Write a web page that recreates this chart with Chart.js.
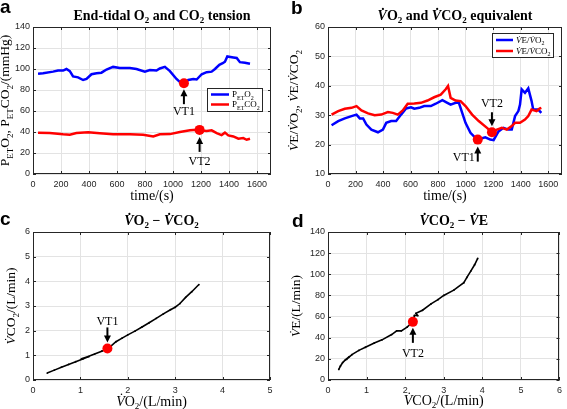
<!DOCTYPE html>
<html><head><meta charset="utf-8">
<script src="https://cdn.jsdelivr.net/npm/chart.js@4.4.0/dist/chart.umd.min.js"></script>
<style>
body{margin:0;background:#fff;width:567px;height:409px;position:relative;overflow:hidden}
canvas{position:absolute}
</style></head><body>
<canvas id="ca" width="283" height="205" style="left:0;top:0"></canvas>
<canvas id="cb" width="284" height="205" style="left:283px;top:0"></canvas>
<canvas id="cc" width="283" height="204" style="left:0;top:205px"></canvas>
<canvas id="cd" width="284" height="204" style="left:283px;top:205px"></canvas>
<script>
// ---------- data ----------
const timeTicks = [0,200,400,600,800,1000,1200,1400,1600];
const pressureTicks = [0,20,40,60,80,100,120,140];
const equivTicks = [10,20,30,40,50,60];
const vo2Ticks = [0,1,2,3,4,5];
const vco2TicksC = [0,1,2,3,4,5,6];
const vco2TicksD = [0,1,2,3,4,5,6];
const veTicks = [0,20,40,60,80,100,120,140];

const timeO2 = [36,72,143,179,215,239,263,286,322,358,382,418,454,489,525,572,620,692,739,799,835,882,906,942,978,1025,1054,1078,1109,1145,1169,1205,1240,1276,1300,1331,1355,1371,1388,1431,1455,1478,1514,1550];
const petO2 = [95.5,96,97.5,98.5,98.5,100,98,93,92,89.5,90.5,95,96,96.5,99.5,102,101,101,100,97.5,99,98.5,100.5,102,98,90.5,87,86.5,89.5,90.5,90,95,97,97.5,100,104,105.5,107,112,111,110.5,106.5,106,105];
const timeCO2 = [36,119,215,263,310,394,477,572,692,787,859,906,978,1049,1121,1169,1193,1240,1276,1312,1347,1371,1395,1431,1467,1502,1526,1550];
const petCO2 = [39.4,39,37.8,37.4,39,39.7,38.7,37.8,37.8,37.4,35.8,37.8,38,40,41.6,42.2,41.6,41,41.6,39,37.1,39.4,36.8,35.8,33.6,34.2,32.6,33.6];

const timeEqO2 = [26,74,122,171,207,231,255,279,315,363,399,423,459,495,531,567,603,627,663,699,747,783,831,867,891,927,951,975,999,1035,1071,1107,1143,1179,1203,1239,1275,1311,1335,1359,1383,1395,1407,1431,1455,1479,1491,1527,1550];
const veVO2 = [26.6,28,28.9,29.7,30.2,28.9,28.9,26.8,25.1,24.2,25.1,27.4,28,28,30.2,32.3,32.7,32.2,32.5,33.1,33.1,33.9,35.1,34.2,33.6,34.2,34.2,30.8,27.4,24,22.3,22,22.5,21.7,21.5,24.5,25.7,25.1,25.1,29.7,31.4,33.6,38.8,37.6,39.1,34.8,31.9,31.9,30.8];
const timeEqCO2 = [26,74,122,171,207,243,291,339,387,435,471,507,543,579,627,675,723,771,819,855,872,891,927,963,999,1047,1095,1155,1191,1227,1263,1299,1335,1359,1395,1431,1455,1479,1515,1539,1550];
const veVCO2 = [30.2,31.4,32.2,32.5,33.1,31.6,30.6,30,30.2,31.1,30.8,30.2,31.6,33.9,34,34.2,35,36.1,37,38.8,39.9,35.9,35,34.8,33.1,30.2,28,25.7,24.2,25.1,25.7,25.1,26.3,27.4,27.4,28.5,29.7,31.9,31.4,32.3,32.5];

const vo2C = [0.30,0.45,0.60,0.75,0.90,1.05,1.18,1.02,1.15,1.30,1.45,1.57,1.65,1.75,1.88,2.00,2.15,2.30,2.45,2.60,2.75,2.90,3.00,3.10,3.22,3.35,3.50];
const vco2C = [0.28,0.40,0.52,0.63,0.74,0.85,0.95,0.86,0.94,1.05,1.17,1.27,1.38,1.55,1.70,1.83,1.98,2.15,2.32,2.50,2.68,2.85,2.95,3.10,3.35,3.58,3.87];

const vco2D = [0.28,0.32,0.38,0.45,0.55,0.48,0.62,0.80,0.97,1.20,1.40,1.65,1.78,1.90,2.05,2.20,2.24,2.32,2.28,2.45,2.67,2.85,3.00,3.26,3.52,3.60,3.70,3.80,3.88];
const veD = [10,13,16.5,19,22,19.5,24,28,31,35,38,43,46.5,46.5,50,55,61,61,63,66,72,76,80,85,92,97,103,109,115];

const vt1A = {x:1078, y:86.5}, vt2A = {x:1190, y:42};
const vt1B = {x:1088, y:21.7}, vt2B = {x:1191, y:24.2};
const vt1C = {x:1.57, y:1.28};
const vt2D = {x:2.2, y:55};

// ---------- helpers ----------
const SERIF = '"Liberation Serif","DejaVu Serif",serif';
const SANS = '"Liberation Sans",Arial,sans-serif';
const V = 'V\u0307';
const xy = (xs, ys) => xs.map((x,i)=>({x, y:ys[i]}));

function rich(ctx, segs, x, y, size, opts={}) {
  const font = f => `${f.includes('i')?'italic ':''}${(opts.bold||f.includes('b'))?'bold ':''}${f.includes('s')?Math.round(size*0.66):size}px ${SERIF}`;
  let w = 0; const ws = [];
  segs.forEach(([t,f=''])=>{ctx.font=font(f); const m=ctx.measureText(t).width; ws.push(m); w+=m;});
  ctx.save(); ctx.translate(x,y); if (opts.rot) ctx.rotate(opts.rot);
  ctx.fillStyle = '#000'; ctx.textBaseline='alphabetic'; ctx.textAlign='left';
  let cx = opts.align==='left' ? 0 : -w/2;
  const base = size*0.33;
  segs.forEach(([t,f=''],i)=>{ctx.font=font(f); ctx.fillText(t, cx, base + (f.includes('s')?size*0.26:0)); cx += ws[i];});
  ctx.restore();
}

function arrow(ctx, x, y1, y2) {
  ctx.save(); ctx.strokeStyle='#000'; ctx.fillStyle='#000'; ctx.lineWidth=2;
  const d = y2>y1 ? 1 : -1;
  ctx.beginPath(); ctx.moveTo(x, y1); ctx.lineTo(x, y2 - d*5); ctx.stroke();
  ctx.beginPath(); ctx.moveTo(x, y2); ctx.lineTo(x-3.5, y2-d*7); ctx.lineTo(x+3.5, y2-d*7); ctx.closePath(); ctx.fill();
  ctx.restore();
}

const deco = {
  id:'deco',
  afterDraw(chart, args, o) {
    const c = chart.ctx, a = chart.chartArea, sx = chart.scales.x, sy = chart.scales.y;
    c.save();
    c.strokeStyle = '#262626'; c.lineWidth = 1;
    c.beginPath();
    sx.ticks.forEach(t=>{const p=Math.round(sx.getPixelForValue(t.value))+0.5; c.moveTo(p,a.bottom); c.lineTo(p,a.bottom-3); c.moveTo(p,a.top); c.lineTo(p,a.top+3);});
    sy.ticks.forEach(t=>{const p=Math.round(sy.getPixelForValue(t.value))+0.5; c.moveTo(a.left,p); c.lineTo(a.left+3,p); c.moveTo(a.right,p); c.lineTo(a.right-3,p);});
    c.stroke();
    c.strokeRect(Math.round(a.left)+0.5, Math.round(a.top)+0.5, Math.round(a.right-a.left)-1, Math.round(a.bottom-a.top)-1);
    // annotations
    (o.notes||[]).forEach(n=>{
      const px = sx.getPixelForValue(n.pt.x), py = sy.getPixelForValue(n.pt.y);
      arrow(c, px, py+n.tail, py+n.head);
      rich(c, [[n.label]], px+(n.lx||0), py+n.ly, 12);
    });
    // legend
    if (o.legend) {
      const L = o.legend;
      c.fillStyle='#fff'; c.fillRect(L.x, L.y, L.w, L.h);
      c.strokeStyle='#262626'; c.lineWidth=1; c.strokeRect(L.x+0.5, L.y+0.5, L.w-1, L.h-1);
      L.items.forEach((it,i)=>{
        const yy = L.y + L.rows[i];
        c.strokeStyle = it.color; c.lineWidth = 2.5;
        c.beginPath(); c.moveTo(L.x+4, yy); c.lineTo(L.x+L.lineW, yy); c.stroke();
        rich(c, it.segs, L.x+L.lineW+3, yy, 9, {align:'left'});
      });
    }
    // titles
    const cx = (a.left+a.right)/2;
    rich(c, o.title, cx + 10, o.titleY, 14, {bold:true});
    rich(c, o.xTitle, cx, o.xTitleY, 14);
    rich(c, o.yTitle, o.yTitleX, (a.top+a.bottom)/2, 13.5, {rot:-Math.PI/2});
    c.font = `bold 19px ${SANS}`; c.fillStyle='#000'; c.textAlign='left'; c.textBaseline='alphabetic';
    c.fillText(o.letter, o.letterX, o.letterY);
    c.restore();
  }
};

function makeChart(id, p) {
  const tickFont = {family:SANS, size:9};
  return new Chart(document.getElementById(id), {
    type:'line',
    data:{datasets:p.datasets},
    options:{
      responsive:false, animation:false, events:[],
      layout:{padding:{top:p.top, right:p.right, left:0, bottom:0}},
      plugins:{legend:{display:false}, tooltip:{enabled:false}, deco:p.deco},
      scales:{
        x:{type:'linear', min:p.xMin, max:p.xMax,
           afterBuildTicks:s=>{s.ticks = p.xTicks.map(v=>({value:v}));},
           afterFit:s=>{s.height = p.bottom;},
           grid:{color:'#e3e3e3', drawTicks:false}, border:{display:false},
           ticks:{font:tickFont, color:'#262626', padding:5, maxRotation:0, autoSkip:false, callback:v=>String(v)}},
        y:{type:'linear', min:p.yMin, max:p.yMax,
           afterBuildTicks:s=>{s.ticks = p.yTicks.map(v=>({value:v}));},
           afterFit:s=>{s.width = p.left;},
           grid:{color:'#e3e3e3', drawTicks:false}, border:{display:false},
           ticks:{font:tickFont, color:'#262626', padding:3, autoSkip:false, callback:v=>String(v)}}
      }
    },
    plugins:[deco]
  });
}

const lineDs = (data, color, order) => ({data, borderColor:color, borderWidth:2.5, pointRadius:0, tension:0, order, fill:false});
const dotDs = (pt, r) => ({data:[pt], showLine:false, pointRadius:r, pointBackgroundColor:'#ff0000', pointBorderWidth:0, order:-1});
const scatDs = (data) => ({data, borderColor:'#000', borderWidth:1.6, pointRadius:0.9, pointBackgroundColor:'#000', pointBorderWidth:0, tension:0, order:1, fill:false});

// Panel a
makeChart('ca', {
  left:33, right:12, top:27, bottom:31, xMin:0, xMax:1700, xTicks:timeTicks, yMin:0, yMax:140, yTicks:pressureTicks,
  datasets:[lineDs(xy(timeO2, petO2), '#0000ff', 2), lineDs(xy(timeCO2, petCO2), '#ff0000', 1), dotDs(vt1A,5), dotDs(vt2A,5)],
  deco:{
    title:[['End-tidal O'],['2','s'],[' and CO'],['2','s'],[' tension']], titleY:15,
    xTitle:[['time/(s)']], xTitleY:195,
    yTitle:[['P'],['ET','s'],['O'],['2','s'],[', P'],['ET','s'],['CO'],['2','s'],['/(mmHg)']], yTitleX:5,
    letter:'a', letterX:0, letterY:13,
    notes:[{pt:vt1A, tail:21, head:6, label:'VT1', ly:28}, {pt:vt2A, tail:22, head:7, label:'VT2', ly:31}],
    legend:{x:207, y:88, w:56, h:24, lineW:22, rows:[6.5,16.5], items:[
      {color:'#0000ff', segs:[['P'],['ET','s'],['O'],['2','s']]},
      {color:'#ff0000', segs:[['P'],['ET','s'],['CO'],['2','s']]}]}
  }
});

// Panel b
makeChart('cb', {
  left:45, right:3, top:27, bottom:31, xMin:0, xMax:1700, xTicks:timeTicks, yMin:10, yMax:60, yTicks:equivTicks,
  datasets:[lineDs(xy(timeEqO2, veVO2), '#0000ff', 2), lineDs(xy(timeEqCO2, veVCO2), '#ff0000', 1), dotDs(vt1B,5), dotDs(vt2B,5)],
  deco:{
    title:[[V,'i'],['O'],['2','s'],[' and '],[V,'i'],['CO'],['2','s'],[' equivalent']], titleY:15,
    xTitle:[['time/(s)']], xTitleY:195,
    yTitle:[[V,'i'],['E/'],[V,'i'],['O'],['2','s'],[', '],[V,'i'],['E/'],[V,'i'],['CO'],['2','s']], yTitleX:11,
    letter:'b', letterX:8, letterY:14,
    notes:[{pt:vt1B, tail:22, head:7, label:'VT1', ly:17, lx:-14}, {pt:vt2B, tail:-20, head:-6, label:'VT2', ly:-29}],
    legend:{x:209, y:33, w:62, h:25, lineW:21, rows:[7,18], items:[
      {color:'#0000ff', segs:[[V,'i'],['E/'],[V,'i'],['O'],['2','s']]},
      {color:'#ff0000', segs:[[V,'i'],['E/'],[V,'i'],['CO'],['2','s']]}]}
  }
});

// Panel c
makeChart('cc', {
  left:33, right:13, top:27, bottom:29, xMin:0, xMax:5, xTicks:vo2Ticks, yMin:0, yMax:6, yTicks:vco2TicksC,
  datasets:[scatDs(xy(vo2C, vco2C)), dotDs(vt1C,5)],
  deco:{
    title:[[V,'i'],['O'],['2','s'],[' \u2212 '],[V,'i'],['CO'],['2','s']], titleY:15,
    xTitle:[[V,'i'],['O'],['2','s'],['/(L/min)']], xTitleY:196,
    yTitle:[[V,'i'],['CO'],['2','s'],['/(L/min)']], yTitleX:11,
    letter:'c', letterX:0, letterY:20,
    notes:[{pt:vt1C, tail:-21, head:-6, label:'VT1', ly:-27}]
  }
});

// Panel d
makeChart('cd', {
  left:45, right:3, top:27, bottom:29, xMin:0, xMax:6, xTicks:vco2TicksD, yMin:0, yMax:140, yTicks:veTicks,
  datasets:[scatDs(xy(vco2D, veD)), dotDs(vt2D,5)],
  deco:{
    title:[[V,'i'],['CO'],['2','s'],[' \u2212 '],[V,'i'],['E']], titleY:15,
    xTitle:[[V,'i'],['CO'],['2','s'],['/(L/min)']], xTitleY:195,
    yTitle:[[V,'i'],['E/(L/min)']], yTitleX:13,
    letter:'d', letterX:9, letterY:22,
    notes:[{pt:vt2D, tail:21, head:6, label:'VT2', ly:31}]
  }
});
</script>
</body></html>
